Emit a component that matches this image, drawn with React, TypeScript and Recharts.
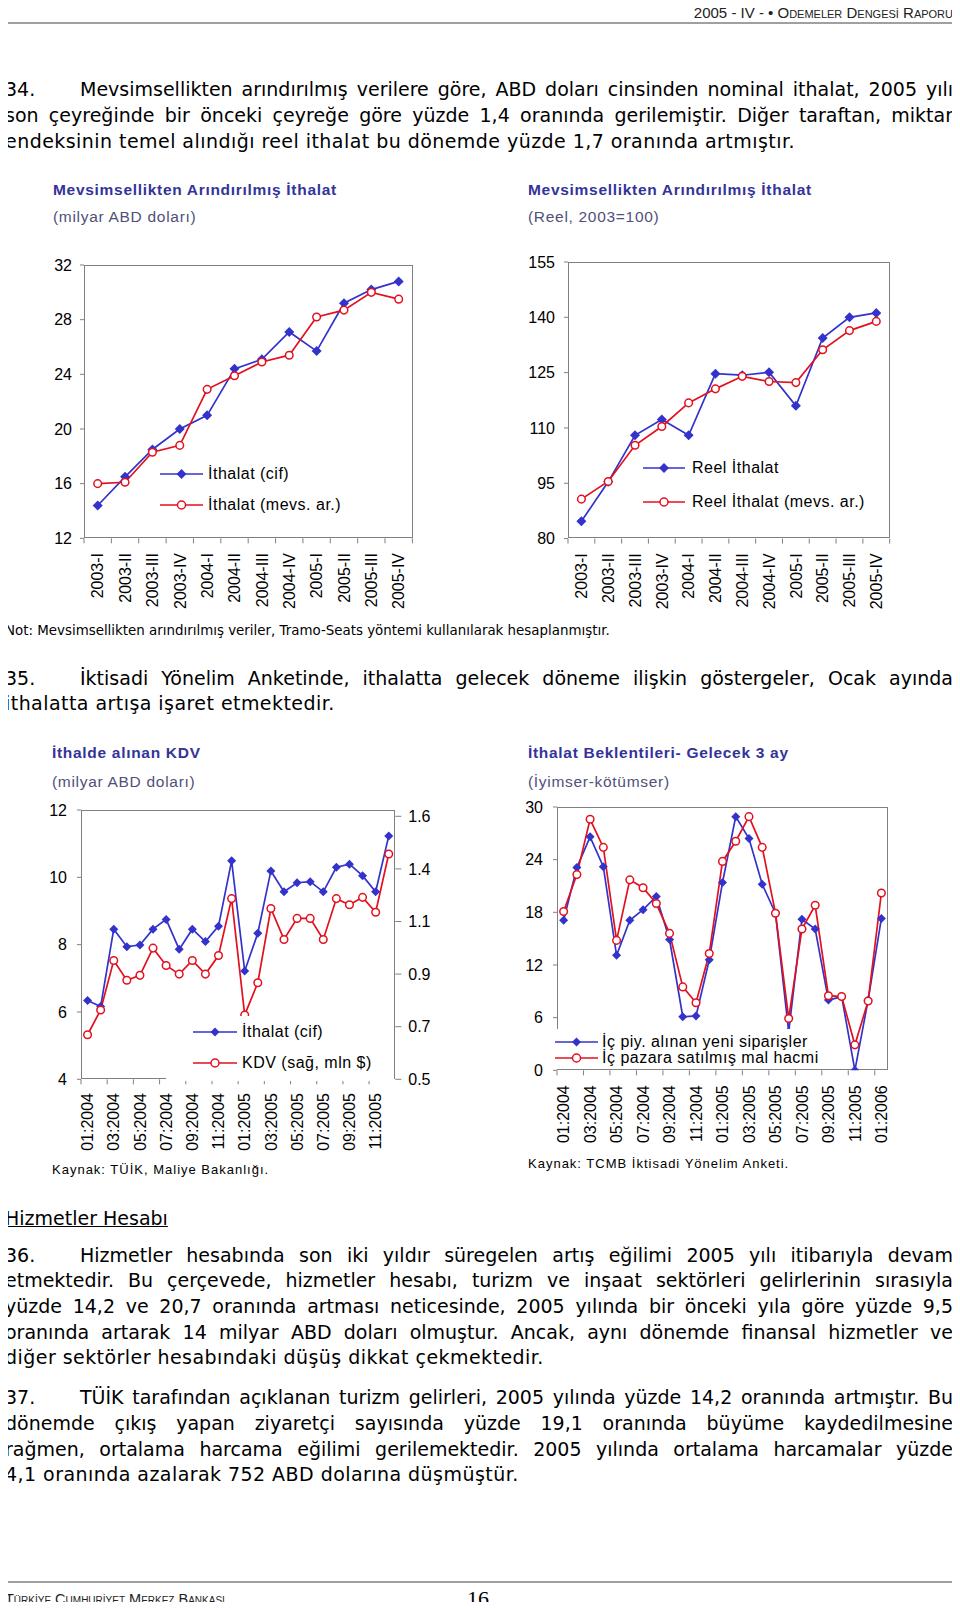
import React from 'react';
import { LineChart, Line, XAxis, YAxis } from 'recharts';

// --- data -----------------------------------------------------------------

const quarters = ['2003-I', '2003-II', '2003-III', '2003-IV', '2004-I', '2004-II', '2004-III', '2004-IV', '2005-I', '2005-II', '2005-III', '2005-IV'];
const nominalCif = [14.4, 16.5, 18.5, 20.0, 21.0, 24.4, 25.1, 27.1, 25.7, 29.2, 30.2, 30.8];
const nominalSa = [16.0, 16.1, 18.3, 18.8, 22.9, 23.9, 24.9, 25.4, 28.2, 28.7, 30.0, 29.5];
const nominalTicks = [12, 16, 20, 24, 28, 32];

const realImport = [84.7, 95.4, 108.0, 112.3, 108.0, 124.7, 124.3, 125.1, 116.0, 134.4, 140.0, 141.2];
const realSa = [90.7, 95.5, 105.3, 110.4, 116.8, 120.6, 124.0, 122.6, 122.3, 131.2, 136.4, 138.9];
const realTicks = [80, 95, 110, 125, 140, 155];

const kdvMonths = ['01:2004', '02:2004', '03:2004', '04:2004', '05:2004', '06:2004', '07:2004', '08:2004', '09:2004', '10:2004', '11:2004', '12:2004',
    '01:2005', '02:2005', '03:2005', '04:2005', '05:2005', '06:2005', '07:2005', '08:2005', '09:2005', '10:2005', '11:2005', '12:2005'];
const kdvImport = [6.34, 6.16, 8.46, 7.94, 7.99, 8.46, 8.75, 7.86, 8.46, 8.09, 8.55, 10.49, 7.22, 8.34, 10.19, 9.57, 9.84, 9.87, 9.57, 10.30, 10.39, 10.05, 9.57, 11.23];
const kdvTax = [0.68, 0.78, 0.98, 0.90, 0.92, 1.03, 0.96, 0.925, 0.98, 0.925, 1.00, 1.23, 0.76, 0.89, 1.19, 1.065, 1.15, 1.15, 1.065, 1.23, 1.205, 1.235, 1.175, 1.41];
const kdvLeftTicks = [4, 6, 8, 10, 12];
const kdvRightTicks = [0.5, 0.7125, 0.925, 1.1375, 1.35, 1.5625];

const surveyMonths = ['01:2004', '02:2004', '03:2004', '04:2004', '05:2004', '06:2004', '07:2004', '08:2004', '09:2004', '10:2004', '11:2004', '12:2004',
    '01:2005', '02:2005', '03:2005', '04:2005', '05:2005', '06:2005', '07:2005', '08:2005', '09:2005', '10:2005', '11:2005', '12:2005', '01:2006'];
const newOrders = [17.1, 23.1, 26.6, 23.2, 13.1, 17.1, 18.3, 19.8, 14.9, 6.1, 6.2, 12.6, 21.4, 28.9, 26.4, 21.2, 17.9, 4.4, 17.2, 16.1, 8.0, 8.4, 0, 8.0, 17.3];
const salesVolume = [18.1, 22.3, 28.6, 25.4, 14.8, 21.7, 20.8, 19.0, 15.6, 9.5, 7.7, 13.3, 23.8, 26.1, 28.9, 25.4, 17.9, 5.9, 16.1, 18.8, 8.5, 8.4, 2.9, 7.9, 20.2];
const surveyTicks = [0, 6, 12, 18, 24, 30];

// --- styles ---------------------------------------------------------------

const BLUE = '#3333cc';
const RED = '#e3101e';
const AXIS = '#808080';
const TITLE = '#333399';
const SUB = '#50507a';
const SANS = "'Liberation Sans', Arial, sans-serif";
const BODY = "'DejaVu Sans', sans-serif";

const diamondDot = (size: number) => (props: any) => {
    const { cx, cy, index } = props;
    if (cx == null || cy == null) return <g key={`d-${index}`} />;
    return (
        <path
            key={`d-${index}`}
            d={`M${cx},${cy - size}L${cx + size},${cy}L${cx},${cy + size}L${cx - size},${cy}Z`}
            fill={BLUE}
        />
    );
};

interface SeriesDef {
    key: string;
    name: string;
    color: string;
    marker: 'diamond' | 'circle';
    axis?: 'left' | 'right';
}

interface LegendPos {
    x: number;
    ys: number[];
    lineW: number;
    gap: number;
    box?: { l: number; t: number; r: number; b: number };
}

interface PanelSpec {
    plot: { l: number; t: number; r: number; b: number };
    labels: string[];
    data: any[];
    series: SeriesDef[];
    yDomain: [number, number];
    yTicks: number[];
    yMargin: number;
    right?: { domain: [number, number]; ticks: number[] };
    interval: number;
    endMark: boolean;
    labelGap: number;
    legend: LegendPos;
    markerSize: number;
}

function LegendItem({ x, y, lineW, gap, s, size }: { x: number; y: number; lineW: number; gap: number; s: SeriesDef; size: number }) {
    return (
        <div style={{ position: 'absolute', left: x, top: y - 10, height: 20, display: 'flex', alignItems: 'center', whiteSpace: 'nowrap' }}>
            <svg width={lineW} height={14} style={{ display: 'block' }}>
                <line x1={0} x2={lineW} y1={7} y2={7} stroke={s.color} strokeWidth={1.6} />
                {s.marker === 'diamond' ? (
                    <path d={`M${lineW / 2},${7 - size}L${lineW / 2 + size},7L${lineW / 2},${7 + size}L${lineW / 2 - size},7Z`} fill={s.color} />
                ) : (
                    <circle cx={lineW / 2} cy={7} r={4} fill="#fff" stroke={s.color} strokeWidth={1.5} />
                )}
            </svg>
            <span style={{ marginLeft: gap, fontSize: 16, fontFamily: SANS, letterSpacing: 0.5, color: '#000' }}>{s.name}</span>
        </div>
    );
}

function PanelChart({ spec }: { spec: PanelSpec }) {
    const { plot, labels, data, series, yDomain, yTicks, right, interval, endMark, labelGap, legend } = spec;
    const n = labels.length;
    const band = (plot.r - plot.l) / n;
    const yW = 60;
    const rW = right ? 60 : 0;
    const mt = 10;
    const xH = 80;
    const left = plot.l - yW;
    const top = plot.t - mt;
    const width = plot.r - plot.l + yW + (right ? rW : 10);
    const height = mt + (plot.b - plot.t) + xH;
    const axisY = mt + (plot.b - plot.t);

    const renderTick = (props: any) => {
        const { x, payload } = props;
        const ly = axisY + labelGap;
        return (
            <g>
                <line x1={x - band / 2} x2={x - band / 2} y1={axisY} y2={axisY + 5} stroke={AXIS} />
                {endMark && payload.value === labels[n - 1] && (
                    <line x1={x + band / 2} x2={x + band / 2} y1={axisY} y2={axisY + 5} stroke={AXIS} />
                )}
                <text
                    x={x}
                    y={ly}
                    transform={`rotate(-90 ${x} ${ly})`}
                    textAnchor="end"
                    dy="0.36em"
                    fontSize={16}
                    fontFamily={SANS}
                    fill="#000"
                >
                    {payload.value}
                </text>
            </g>
        );
    };

    return (
        <>
            <div
                style={{
                    position: 'absolute',
                    left: plot.l,
                    top: plot.t,
                    width: plot.r - plot.l,
                    height: plot.b - plot.t,
                    border: `1px solid ${AXIS}`,
                    boxSizing: 'border-box',
                }}
            />
            <div style={{ position: 'absolute', left, top }}>
                <LineChart
                    width={width}
                    height={height}
                    data={data}
                    margin={{ top: mt, right: right ? 0 : 10, bottom: 0, left: 0 }}
                >
                    <XAxis
                        dataKey="label"
                        interval={interval}
                        tickLine={false}
                        axisLine={false}
                        height={xH}
                        padding={{ left: band / 2, right: band / 2 }}
                        tick={renderTick}
                    />
                    <YAxis
                        yAxisId="left"
                        domain={yDomain}
                        ticks={yTicks}
                        interval={0}
                        width={yW}
                        tickSize={4}
                        tickMargin={spec.yMargin}
                        axisLine={false}
                        tickLine={{ stroke: AXIS }}
                        tick={{ fill: '#000', fontSize: 16, fontFamily: SANS }}
                        allowDataOverflow
                    />
                    {right && (
                        <YAxis
                            yAxisId="right"
                            orientation="right"
                            domain={right.domain}
                            ticks={right.ticks}
                            interval={0}
                            width={rW}
                            tickSize={6}
                            tickMargin={7}
                            axisLine={false}
                            tickLine={{ stroke: AXIS }}
                            tick={{ fill: '#000', fontSize: 16, fontFamily: SANS }}
                            tickFormatter={(v: number) => v.toFixed(1)}
                            allowDataOverflow
                        />
                    )}
                    {series.map((s) => (
                        <Line
                            key={s.key}
                            yAxisId={s.axis || 'left'}
                            type="linear"
                            dataKey={s.key}
                            name={s.name}
                            stroke={s.color}
                            strokeWidth={1.7}
                            dot={s.marker === 'diamond'
                                ? diamondDot(spec.markerSize)
                                : { r: 3.8, fill: '#fff', stroke: s.color, strokeWidth: 1.5 }}
                            activeDot={false}
                            isAnimationActive={false}
                        />
                    ))}
                </LineChart>
            </div>
            {legend.box && (
                <div
                    style={{
                        position: 'absolute',
                        left: legend.box.l,
                        top: legend.box.t,
                        width: legend.box.r - legend.box.l,
                        height: legend.box.b - legend.box.t,
                        background: '#fff',
                    }}
                />
            )}
            {series.map((s, i) => (
                <LegendItem key={s.key} x={legend.x} y={legend.ys[i]} lineW={legend.lineW} gap={legend.gap} s={s} size={spec.markerSize} />
            ))}
        </>
    );
}

// --- text helpers -----------------------------------------------------------

function Txt({ x, y, size, children, color = '#000', weight = 400, ls = 0, font = SANS, style = {} }: any) {
    const h = Math.round(size * 1.3);
    return (
        <div
            style={{
                position: 'absolute',
                left: x,
                top: y - h / 2,
                height: h,
                lineHeight: `${h}px`,
                fontSize: size,
                fontFamily: font,
                fontWeight: weight,
                letterSpacing: ls,
                color,
                whiteSpace: 'nowrap',
                ...style,
            }}
        >
            {children}
        </div>
    );
}

function BodyLine({ y, text, num, width = 948, justify = true, ls = 0 }: { y: number; text: string; num?: string; width?: number; justify?: boolean; ls?: number }) {
    const h = 24;
    return (
        <div
            style={{
                position: 'absolute',
                left: 5,
                top: y - h / 2,
                width,
                height: h,
                lineHeight: `${h}px`,
                fontSize: 19,
                fontFamily: BODY,
                letterSpacing: ls,
                color: '#000',
                whiteSpace: 'nowrap',
                textAlign: justify ? 'justify' : 'left',
                textAlignLast: justify ? 'justify' : 'left',
            }}
        >
            {num && <span style={{ display: 'inline-block', width: 75 }}>{num}</span>}
            {text}
        </div>
    );
}

// --- chart specs ------------------------------------------------------------

const nominalSeries: SeriesDef[] = [
    { key: 'cif', name: 'İthalat (cif)', color: BLUE, marker: 'diamond' },
    { key: 'sa', name: 'İthalat (mevs. ar.)', color: RED, marker: 'circle' },
];
const realSeries: SeriesDef[] = [
    { key: 'real', name: 'Reel İthalat', color: BLUE, marker: 'diamond' },
    { key: 'sa', name: 'Reel İthalat (mevs. ar.)', color: RED, marker: 'circle' },
];
const kdvSeries: SeriesDef[] = [
    { key: 'imp', name: 'İthalat (cif)', color: BLUE, marker: 'diamond' },
    { key: 'kdv', name: 'KDV (sağ, mln $)', color: RED, marker: 'circle', axis: 'right' },
];
const surveySeries: SeriesDef[] = [
    { key: 'orders', name: 'İç piy. alınan yeni siparişler', color: BLUE, marker: 'diamond' },
    { key: 'sales', name: 'İç pazara satılmış mal hacmi', color: RED, marker: 'circle' },
];

const nominalSpec: PanelSpec = {
    plot: { l: 84.3, t: 265, r: 412.7, b: 538.3 },
    labels: quarters,
    data: quarters.map((label, i) => ({ label, cif: nominalCif[i], sa: nominalSa[i] })),
    series: nominalSeries,
    yDomain: [12, 32],
    yTicks: nominalTicks,
    yMargin: 8,
    interval: 0,
    endMark: true,
    labelGap: 14.7,
    legend: { x: 160, ys: [474, 505], lineW: 43, gap: 5 },
    markerSize: 5,
};

const realSpec: PanelSpec = {
    plot: { l: 568.3, t: 261.7, r: 890, b: 538.3 },
    labels: quarters,
    data: quarters.map((label, i) => ({ label, real: realImport[i], sa: realSa[i] })),
    series: realSeries,
    yDomain: [80, 155],
    yTicks: realTicks,
    yMargin: 9,
    interval: 0,
    endMark: true,
    labelGap: 14.7,
    legend: { x: 643, ys: [468, 502], lineW: 42, gap: 7 },
    markerSize: 5,
};

const kdvSpec: PanelSpec = {
    plot: { l: 80.7, t: 810, r: 395, b: 1079.3 },
    labels: kdvMonths,
    data: kdvMonths.map((label, i) => ({ label, imp: kdvImport[i], kdv: kdvTax[i] })),
    series: kdvSeries,
    yDomain: [4, 12],
    yTicks: kdvLeftTicks,
    yMargin: 10,
    right: { domain: [0.5, 1.588], ticks: kdvRightTicks },
    interval: 1,
    endMark: false,
    labelGap: 13.7,
    legend: { x: 193, ys: [1032, 1063], lineW: 44, gap: 5, box: { l: 166, t: 1016, r: 394, b: 1080.5 } },
    markerSize: 4.5,
};

const surveySpec: PanelSpec = {
    plot: { l: 557.3, t: 806.7, r: 888.3, b: 1070 },
    labels: surveyMonths,
    data: surveyMonths.map((label, i) => ({ label, orders: newOrders[i], sales: salesVolume[i] })),
    series: surveySeries,
    yDomain: [0, 30],
    yTicks: surveyTicks,
    yMargin: 10,
    interval: 1,
    endMark: false,
    labelGap: 15,
    legend: { x: 555, ys: [1042, 1058], lineW: 43, gap: 4, box: { l: 553, t: 1029, r: 830, b: 1069 } },
    markerSize: 4.5,
};

export default function App() {
    return (
        <div style={{ position: 'relative', width: 960, height: 1610, margin: -8, background: '#fff', overflow: 'hidden' }}>
            {/* page header */}
            <div
                lang="tr"
                style={{
                    position: 'absolute', right: 7, top: 3.5, height: 18, lineHeight: '18px',
                    fontSize: 15, fontFamily: SANS, fontVariant: 'small-caps', color: '#222', whiteSpace: 'nowrap',
                }}
            >
                2005 - IV - • Ödemeler Dengesi Raporu
            </div>
            <div style={{ position: 'absolute', left: 0, top: 21.5, width: 960, height: 2, background: '#a0a0a0' }} />

            <BodyLine y={89} num="34." text="Mevsimsellikten arındırılmış verilere göre, ABD doları cinsinden nominal ithalat, 2005 yılı" />
            <BodyLine y={115} text="son çeyreğinde bir önceki çeyreğe göre yüzde 1,4 oranında gerilemiştir. Diğer taraftan, miktar" />
            <BodyLine y={141} text="endeksinin temel alındığı reel ithalat bu dönemde yüzde 1,7 oranında artmıştır." justify={false} ls={0.45} />

            {/* top charts */}
            <Txt x={53} y={190} size={15.5} weight={700} color={TITLE} ls={0.7}>Mevsimsellikten Arındırılmış İthalat</Txt>
            <Txt x={53} y={217} size={15.5} color={SUB} ls={0.7}>(milyar ABD doları)</Txt>
            <Txt x={528} y={190} size={15.5} weight={700} color={TITLE} ls={0.7}>Mevsimsellikten Arındırılmış İthalat</Txt>
            <Txt x={528} y={217} size={15.5} color={SUB} ls={0.7}>(Reel, 2003=100)</Txt>

            <PanelChart spec={nominalSpec} />
            <PanelChart spec={realSpec} />

            <Txt x={5} y={630} size={13.4} font={BODY}>Not: Mevsimsellikten arındırılmış veriler, Tramo-Seats yöntemi kullanılarak hesaplanmıştır.</Txt>

            <BodyLine y={677.6} num="35." text="İktisadi Yönelim Anketinde, ithalatta gelecek döneme ilişkin göstergeler, Ocak ayında" />
            <BodyLine y={703} text="ithalatta artışa işaret etmektedir." justify={false} ls={0.45} />

            {/* bottom charts */}
            <Txt x={52} y={753} size={15.5} weight={700} color={TITLE} ls={0.7}>İthalde alınan KDV</Txt>
            <Txt x={52} y={782} size={15.5} color={SUB} ls={0.7}>(milyar ABD doları)</Txt>
            <Txt x={528} y={753} size={15.5} weight={700} color={TITLE} ls={0.7}>İthalat Beklentileri- Gelecek 3 ay</Txt>
            <Txt x={528} y={782} size={15.5} color={SUB} ls={0.7}>(İyimser-kötümser)</Txt>

            <PanelChart spec={kdvSpec} />
            <PanelChart spec={surveySpec} />

            <Txt x={52} y={1169} size={13} ls={1}>Kaynak: TÜİK, Maliye Bakanlığı.</Txt>
            <Txt x={528} y={1163} size={13} ls={1}>Kaynak: TCMB İktisadi Yönelim Anketi.</Txt>

            <Txt x={5} y={1218} size={19} font={BODY} style={{ textDecoration: 'underline' }}>Hizmetler Hesabı</Txt>

            <BodyLine y={1254.6} num="36." text="Hizmetler hesabında son iki yıldır süregelen artış eğilimi 2005 yılı itibarıyla devam" />
            <BodyLine y={1280.3} text="etmektedir. Bu çerçevede, hizmetler hesabı, turizm ve inşaat sektörleri gelirlerinin sırasıyla" />
            <BodyLine y={1306} text="yüzde 14,2 ve 20,7 oranında artması neticesinde, 2005 yılında bir önceki yıla göre yüzde 9,5" />
            <BodyLine y={1331.6} text="oranında artarak 14 milyar ABD doları olmuştur. Ancak, aynı dönemde finansal hizmetler ve" />
            <BodyLine y={1357.3} text="diğer sektörler hesabındaki düşüş dikkat çekmektedir." justify={false} ls={0.45} />

            <BodyLine y={1397.3} num="37." text="TÜİK tarafından açıklanan turizm gelirleri, 2005 yılında yüzde 14,2 oranında artmıştır. Bu" />
            <BodyLine y={1423} text="dönemde çıkış yapan ziyaretçi sayısında yüzde 19,1 oranında büyüme kaydedilmesine" />
            <BodyLine y={1448.7} text="rağmen, ortalama harcama eğilimi gerilemektedir. 2005 yılında ortalama harcamalar yüzde" />
            <BodyLine y={1474.4} text="4,1 oranında azalarak 752 ABD dolarına düşmüştür." justify={false} ls={0.45} />

            {/* page footer */}
            <div style={{ position: 'absolute', left: 0, top: 1581, width: 960, height: 2, background: '#a0a0a0' }} />
            <div
                lang="tr"
                style={{
                    position: 'absolute', left: 5, top: 1591, height: 17, lineHeight: '17px',
                    fontSize: 14.5, fontFamily: SANS, fontVariant: 'small-caps', color: '#222', whiteSpace: 'nowrap',
                }}
            >
                Türkiye Cumhuriyet Merkez Bankası
            </div>
            <div
                style={{
                    position: 'absolute', left: 458, top: 1589, width: 40, textAlign: 'center', height: 20, lineHeight: '20px',
                    fontSize: 22, fontFamily: "'Liberation Serif', serif", color: '#000',
                }}
            >
                16
            </div>
        </div>
    );
}
